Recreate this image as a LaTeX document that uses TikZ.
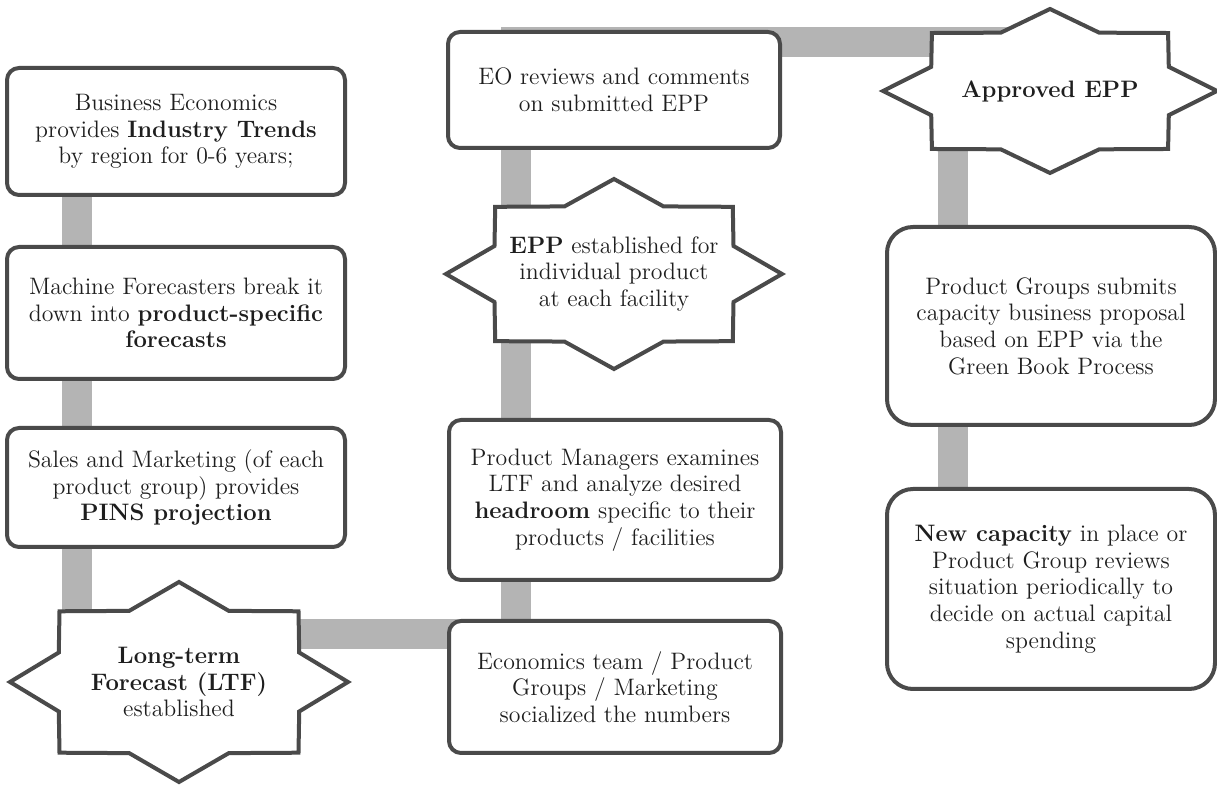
\documentclass[tikz,border=0pt]{standalone}
\usepackage{xcolor}
\usepackage{tikz}
\usetikzlibrary{positioning,backgrounds}

\definecolor{linegray}{HTML}{4A4A4A}
\definecolor{bargray}{HTML}{B4B4B4}
\definecolor{textgray}{HTML}{1E1E1E}

% eight-point burst drawn round a named node: #1 node, #2 half width, #3 half height
\newcommand{\drawburst}[3]{%
  \draw[burstline, shift={(#1.center)}, x=#2, y=#3]
    (90:1) \foreach \k [evaluate=\k as \r using {1-0.23*mod(\k,2)}] in {1,...,15} { -- ({90+22.5*\k}:\r) } -- cycle;%
}

\begin{document}
\begin{tikzpicture}[
				stepbox/.style={rectangle, rounded corners=6pt, draw=linegray, fill=white, line width=2pt, align=center, text=textgray, font=\fontsize{11.9}{13.3}\selectfont, inner sep=3pt},
				roundbox/.style={stepbox, rounded corners=13pt},
				bursttext/.style={align=center, text=textgray, font=\fontsize{11.9}{13.3}\selectfont, inner sep=0pt},
				burstline/.style={draw=linegray, fill=white, line width=2pt, line join=miter},
				bar/.style={draw=bargray, line width=15pt},
				node distance = 22pt,
				]
				\useasboundingbox (0,0) rectangle (608.5pt,-392.5pt);
				
				%Nodes
				\node[stepbox, minimum width=169pt, minimum height=63.5pt](bizecon) at (88pt,-65.75pt){Business Economics\\ provides \textbf{Industry Trends}\\ by region for 0-6 years;};
				\node[stepbox, minimum width=169pt, minimum height=66pt](machfc)[below=24pt of bizecon]{Machine Forecasters break it\\ down into \textbf{product-specific}\\ \textbf{forecasts}};
				\node[stepbox, minimum width=169pt, minimum height=59.5pt](salesmkt)[below=22.5pt of machfc]{Sales and Marketing (of each\\ product group) provides\\ \textbf{PINS projection}};
				\node[bursttext](ltf) at (89.5pt,-341pt){\textbf{Long-term}\\ \textbf{Forecast (LTF)}\\ established};
				
				\node[stepbox, minimum width=166pt, minimum height=58pt](eorev) at (307pt,-45pt){EO reviews and comments\\ on submitted EPP};
				\node[bursttext](epp) at (307pt,-137pt){\textbf{EPP} established for\\ individual product\\ at each facility};
				\node[stepbox, minimum width=166pt, minimum height=80pt](prodmgr) at (307.5pt,-250pt){Product Managers examines\\ LTF and analyze desired\\ \textbf{headroom} specific to their\\ products / facilities};
				\node[stepbox, minimum width=166pt, minimum height=66pt](econteam)[below=18.5pt of prodmgr]{Economics team / Product\\ Groups / Marketing\\ socialized the numbers};
				
				\node[bursttext](approved) at (525pt,-45.5pt){\textbf{Approved EPP}};
				\node[roundbox, minimum width=164pt, minimum height=99pt](prodgrp) at (525.5pt,-163pt){Product Groups submits\\ capacity business proposal\\ based on EPP via the\\ Green Book Process};
				\node[roundbox, minimum width=164pt, minimum height=100pt](newcap)[below=30pt of prodgrp]{\textbf{New capacity} in place or\\ Product Group reviews\\ situation periodically to\\ decide on actual capital\\ spending};
				
				%Lines
				\begin{scope}[on background layer]
				\draw[bar] ([xshift=-49.5pt]bizecon.center) -- ([xshift=-49.5pt]bizecon.center |- ltf.center);
				\draw[bar] ([yshift=24pt]ltf.center) -- ([yshift=24pt]ltf.center -| econteam.center);
				\draw[bar] ([xshift=-49.5pt]econteam.center) |- ([yshift=24.25pt]approved.center);
				\draw[bar] ([xshift=-48.5pt]approved.center) -- ([xshift=-48.5pt]approved.center |- newcap.center);
				
				%Bursts
				\drawburst{ltf}{84.5pt}{50pt}
				\drawburst{epp}{84pt}{47.5pt}
				\drawburst{approved}{83.5pt}{41pt}
				\end{scope}
				
			\end{tikzpicture}
\end{document}
